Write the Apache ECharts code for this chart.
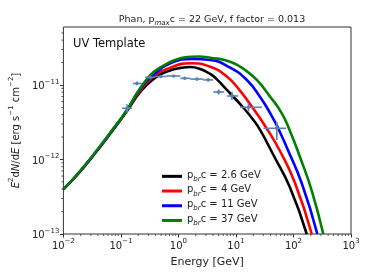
<!DOCTYPE html>
<html><head><meta charset="utf-8">
<script src="https://cdn.jsdelivr.net/npm/echarts@6/dist/echarts.min.js"></script>
<style>html,body{margin:0;padding:0;background:#fff}#c{width:374px;height:280px}</style>
</head><body><div id="c"></div>
<script>
// ---- data ----
const xTicks = [0.01, 0.1, 1, 10, 100, 1000];
const yTicks = [1e-13, 1e-12, 1e-11];
const legendLabels = ['2.6', '4', '11', '37'];

const blackE = [0.01, 0.0173, 0.0336, 0.0655, 0.1277, 0.217, 0.370, 0.631, 1.227, 1.603, 2.39, 3.565, 4.66, 6.95, 13.49, 20.1, 26.3, 44.8, 87.3, 170];
const blackF = [3.98e-13, 6.19e-13, 1.148e-12, 2.234e-12, 4.48e-12, 8.05e-12, 1.204e-11, 1.517e-11, 1.718e-11, 1.744e-11, 1.64e-11, 1.405e-11, 1.19e-11, 8.6e-12, 4.95e-12, 3.39e-12, 2.49e-12, 1.148e-12, 4.17e-13, 1e-13];

const redE = [0.01, 0.0173, 0.0336, 0.0655, 0.1277, 0.217, 0.370, 0.721, 1.603, 3.565, 6.95, 11.83, 20.1, 32.1, 58.5, 106.6, 208];
const redF = [3.98e-13, 6.19e-13, 1.148e-12, 2.25e-12, 4.55e-12, 8.44e-12, 1.30e-11, 1.706e-11, 1.955e-11, 1.76e-11, 1.30e-11, 8.32e-12, 4.79e-12, 2.82e-12, 1.29e-12, 4.79e-13, 1e-13];

const blueE = [0.01, 0.0173, 0.0336, 0.0655, 0.1277, 0.217, 0.370, 0.721, 1.829, 3.565, 7.93, 15.45, 26.3, 40.8, 54.1, 76.5, 139.3, 260];
const blueF = [4.0e-13, 6.24e-13, 1.157e-12, 2.27e-12, 4.6e-12, 8.84e-12, 1.37e-11, 1.955e-11, 2.233e-11, 2.166e-11, 1.706e-11, 1.167e-11, 6.90e-12, 3.98e-12, 2.63e-12, 1.445e-12, 4.79e-13, 1e-13];

const greenE = [0.01, 0.0173, 0.0336, 0.0655, 0.1277, 0.190, 0.284, 0.370, 0.483, 0.822, 1.405, 2.206, 3.565, 7.93, 14.45, 23.05, 39.3, 62.7, 87.3, 130.3, 208, 330];
const greenF = [4.02e-13, 6.29e-13, 1.167e-12, 2.30e-12, 4.62e-12, 7.81e-12, 1.204e-11, 1.494e-11, 1.718e-11, 2.13e-11, 2.376e-11, 2.413e-11, 2.325e-11, 2.055e-11, 1.589e-11, 1.167e-11, 6.97e-12, 4.17e-12, 2.40e-12, 1.07e-12, 3.80e-13, 1e-13];

const ptE   = [0.128, 0.190, 0.323, 0.493, 0.822, 1.285, 2.09, 3.29, 5.0, 8.5, 16.5, 51.3];
const ptElo = [0.1045, 0.162, 0.265, 0.395, 0.614, 1.08, 1.6, 2.69, 4.02, 6.95, 11.8, 30];
const ptEhi = [0.156, 0.232, 0.395, 0.614, 1.08, 1.6, 2.69, 4.02, 6.24, 11.0, 28.2, 74.5];
const ptF   = [4.87e-12, 1.047e-11, 1.27e-11, 1.30e-11, 1.32e-11, 1.23e-11, 1.20e-11, 1.17e-11, 8.05e-12, 7.12e-12, 5.02e-12, 2.62e-12];
const ptFlo = [4.17e-12, 0.99e-11, 1.23e-11, 1.26e-11, 1.28e-11, 1.19e-11, 1.16e-11, 1.13e-11, 7.45e-12, 6.29e-12, 4.38e-12, 1.83e-12];
const ptFhi = [5.51e-12, 1.11e-11, 1.31e-11, 1.34e-11, 1.36e-11, 1.27e-11, 1.24e-11, 1.21e-11, 8.7e-12, 8.13e-12, 5.68e-12, 3.21e-12];

const xMinor = [];
for (let k = -2; k < 3; k++) for (let m = 2; m <= 9; m++) xMinor.push(m * Math.pow(10, k));
const yMinor = [];
for (let k = -13; k < -10; k++) for (let m = 2; m <= 9; m++) { const v = m * Math.pow(10, k); if (v < 6e-11) yMinor.push(v); }

// ---- chart ----
const FONT = 'DejaVu Sans';
const PTCOL = '#5a82b8';
const TXT = '#222';
const chart = echarts.init(document.getElementById('c'), null, {renderer: 'canvas'});

function supLabel(v) {
  const e = Math.round(Math.log10(v));
  return '{b|10}{s|' + String(e).replace('-', '\u2212') + '}';
}
const supRich = {
  b: {fontFamily: FONT, fontSize: 10, color: TXT, lineHeight: 13, verticalAlign: 'bottom'},
  s: {fontFamily: FONT, fontSize: 7, color: TXT, lineHeight: 8, verticalAlign: 'top'}
};

function lineSeries(name, E, F, color) {
  return {
    name: name, type: 'line', showSymbol: false, smooth: 0.5,
    data: E.map((e, i) => [e, F[i]]),
    lineStyle: {color: color, width: 2.6}, itemStyle: {color: color},
    emphasis: {disabled: true}, animation: false, z: 3
  };
}

chart.setOption({
  animation: false,
  grid: {left: 63, right: 23, top: 27, bottom: 46, show: true, borderColor: '#333', borderWidth: 1, backgroundColor: 'transparent'},
  title: {
    text: '{a|Phan, p}{s|max}{a|c = 22 GeV, f factor = 0.013}',
    left: 207, top: 10, textAlign: 'center',
    textStyle: {fontWeight: 'normal', rich: {
      a: {fontFamily: FONT, fontSize: 9.5, fontWeight: 'normal', color: TXT, lineHeight: 12, verticalAlign: 'top'},
      s: {fontFamily: FONT, fontSize: 7, fontWeight: 'normal', fontStyle: 'italic', color: TXT, lineHeight: 8, verticalAlign: 'bottom'}
    }}
  },
  graphic: [{type: 'text', left: 73, top: 38, style: {text: 'UV Template', fontFamily: FONT, fontSize: 11.5, fill: '#111'}}],
  legend: {
    orient: 'vertical', left: 157, top: 165, itemWidth: 20, itemHeight: 3, itemGap: 2, icon: 'rect',
    data: legendLabels,
    formatter: n => '{p|p}{s|br}{p|c = ' + n + ' GeV}',
    textStyle: {rich: {
      p: {fontFamily: FONT, fontSize: 10, color: TXT, lineHeight: 12.7, verticalAlign: 'top'},
      s: {fontFamily: FONT, fontSize: 7, fontStyle: 'italic', color: TXT, lineHeight: 8, verticalAlign: 'bottom'}
    }}
  },
  xAxis: {
    type: 'log', logBase: 10, min: 0.01, max: 1000,
    name: 'Energy [GeV]', nameLocation: 'middle', nameGap: 23,
    nameTextStyle: {fontFamily: FONT, fontSize: 11, color: TXT},
    axisLine: {show: false},
    axisTick: {show: true, length: 3.5, lineStyle: {color: '#333'}, customValues: xTicks},
    axisLabel: {margin: 4, formatter: supLabel, rich: supRich, customValues: xTicks},
    splitLine: {show: false}, minorTick: {show: false}
  },
  yAxis: {
    type: 'log', logBase: 10, min: 1e-13, max: 6e-11,
    name: '{i|E}{s|2}{a|d}{i|N}{a|/d}{i|E}{a| [erg s}{s|\u22121}{a| cm}{s|\u22122}{a|]}',
    nameLocation: 'middle', nameGap: 38, nameRotate: 90,
    nameTextStyle: {rich: {
      a: {fontFamily: FONT, fontSize: 10, color: TXT, lineHeight: 13, verticalAlign: 'bottom'},
      i: {fontFamily: FONT, fontSize: 10, fontStyle: 'italic', color: TXT, lineHeight: 13, verticalAlign: 'bottom'},
      s: {fontFamily: FONT, fontSize: 7, color: TXT, lineHeight: 8, verticalAlign: 'top'}
    }},
    axisLine: {show: false},
    axisTick: {show: true, length: 3.5, lineStyle: {color: '#333'}, customValues: yTicks},
    axisLabel: {margin: 4, formatter: supLabel, rich: supRich, customValues: yTicks},
    splitLine: {show: false}, minorTick: {show: false}
  },
  series: [
    lineSeries('2.6', blackE, blackF, '#000000'),
    lineSeries('4', redE, redF, '#ff0000'),
    lineSeries('11', blueE, blueF, '#0000ff'),
    lineSeries('37', greenE, greenF, '#008000'),
    {
      type: 'custom', z: 10, clip: false, animation: false,
      encode: {x: 0, y: 1},
      data: ptE.map((e, i) => [e, ptF[i], ptElo[i], ptEhi[i], ptFlo[i], ptFhi[i]]),
      renderItem: function (params, api) {
        const c = api.coord([api.value(0), api.value(1)]);
        const xl = api.coord([api.value(2), api.value(1)]);
        const xh = api.coord([api.value(3), api.value(1)]);
        const yl = api.coord([api.value(0), api.value(4)]);
        const yh = api.coord([api.value(0), api.value(5)]);
        const st = {stroke: PTCOL, lineWidth: 1.6};
        return {type: 'group', children: [
          {type: 'line', shape: {x1: xl[0], y1: c[1], x2: xh[0], y2: c[1]}, style: st},
          {type: 'line', shape: {x1: c[0], y1: yl[1], x2: c[0], y2: yh[1]}, style: st},
          {type: 'circle', shape: {cx: c[0], cy: c[1], r: 1.8}, style: {fill: PTCOL}}
        ]};
      }
    },
    {
      type: 'custom', clip: false, silent: true, encode: {x: 0, y: 1},
      data: xMinor.map(v => [v, 1e-13]),
      renderItem: function (params, api) {
        const p = api.coord([api.value(0), api.value(1)]);
        return {type: 'line', shape: {x1: p[0], y1: p[1], x2: p[0], y2: p[1] + 2}, style: {stroke: '#333', lineWidth: 0.8}};
      }
    },
    {
      type: 'custom', clip: false, silent: true, encode: {x: 0, y: 1},
      data: yMinor.map(v => [0.01, v]),
      renderItem: function (params, api) {
        const p = api.coord([api.value(0), api.value(1)]);
        return {type: 'line', shape: {x1: p[0], y1: p[1], x2: p[0] - 2, y2: p[1]}, style: {stroke: '#333', lineWidth: 0.8}};
      }
    }
  ]
});
</script>
</body></html>
